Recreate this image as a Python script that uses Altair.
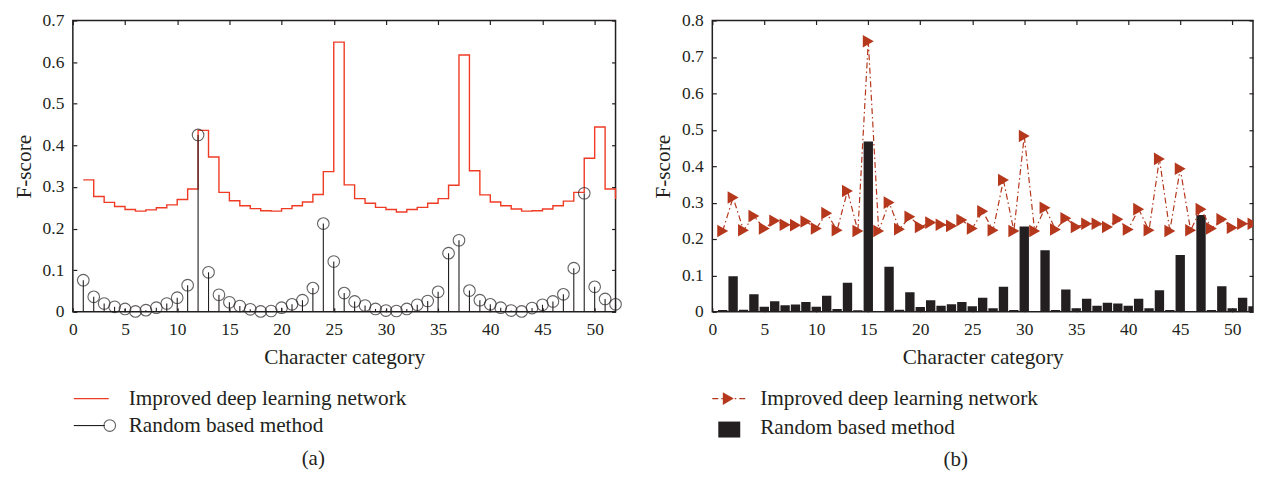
import altair as alt
import pandas as pd

# ---------------- data ----------------
categories = list(range(1, 53))

improved_a = [0.317, 0.277, 0.263, 0.253, 0.246, 0.242, 0.245, 0.250, 0.257, 0.270,
              0.295, 0.436, 0.372, 0.287, 0.267, 0.255, 0.248, 0.243, 0.242, 0.248,
              0.255, 0.264, 0.282, 0.337, 0.648, 0.305, 0.272, 0.261, 0.251, 0.246,
              0.240, 0.246, 0.251, 0.261, 0.272, 0.304, 0.617, 0.339, 0.281, 0.264,
              0.255, 0.247, 0.242, 0.243, 0.247, 0.255, 0.266, 0.287, 0.369, 0.444,
              0.295, 0.271]

random_a = [0.076, 0.036, 0.020, 0.012, 0.007, 0.001, 0.004, 0.010, 0.020, 0.034,
            0.064, 0.425, 0.095, 0.041, 0.023, 0.014, 0.006, 0.001, 0.002, 0.010,
            0.018, 0.028, 0.057, 0.212, 0.121, 0.045, 0.025, 0.015, 0.007, 0.003,
            0.002, 0.007, 0.017, 0.026, 0.048, 0.141, 0.172, 0.051, 0.028, 0.018,
            0.010, 0.003, 0.001, 0.009, 0.017, 0.025, 0.042, 0.105, 0.285, 0.060,
            0.031, 0.018]

improved_b = [0.222, 0.314, 0.224, 0.263, 0.229, 0.250, 0.239, 0.238, 0.248, 0.229,
              0.271, 0.224, 0.332, 0.222, 0.743, 0.222, 0.300, 0.227, 0.261, 0.233,
              0.245, 0.239, 0.236, 0.252, 0.229, 0.276, 0.224, 0.362, 0.222, 0.483,
              0.222, 0.286, 0.226, 0.257, 0.233, 0.242, 0.242, 0.233, 0.254, 0.226,
              0.282, 0.224, 0.420, 0.222, 0.393, 0.224, 0.282, 0.229, 0.254, 0.231,
              0.242, 0.242]

random_b = [0.005, 0.098, 0.006, 0.048, 0.014, 0.029, 0.018, 0.020, 0.027, 0.014,
            0.044, 0.008, 0.080, 0.004, 0.468, 0.002, 0.124, 0.006, 0.054, 0.013,
            0.032, 0.017, 0.021, 0.027, 0.015, 0.039, 0.010, 0.069, 0.005, 0.234,
            0.002, 0.169, 0.005, 0.061, 0.010, 0.036, 0.017, 0.025, 0.023, 0.017,
            0.036, 0.010, 0.059, 0.005, 0.156, 0.002, 0.266, 0.005, 0.070, 0.010,
            0.039, 0.015]

series_names = ["Improved deep learning network", "Random based method"]
panel_tags = ["(a)", "(b)"]
x_ticks = [0, 5, 10, 15, 20, 25, 30, 35, 40, 45, 50]
y_ticks_a = [0, 0.1, 0.2, 0.3, 0.4, 0.5, 0.6, 0.7]
y_ticks_b = [0, 0.1, 0.2, 0.3, 0.4, 0.5, 0.6, 0.7, 0.8]
x_title = "Character category"
y_title = "F-score"

# ---------------- style ----------------
FONT = "Liberation Serif"
INK = "#231f20"
RED_A = "#ef3b24"
RED_B = "#b5371c"
W, H = 544, 292
WB = 542
TICK_FS = 17.5
TITLE_FS = 21.3
LEG_FS = 21.3
TAG_FS = 21
CIRC = 135
TRI = 160

df_a = pd.DataFrame({"cat": categories, "improved": improved_a, "random": random_a})
df_b = pd.DataFrame({"cat": categories, "improved": improved_b, "random": random_b})


def label_axis_x():
    return alt.Axis(values=x_ticks, ticks=False, tickSize=0, domain=False, grid=False,
                    labelPadding=9, labelFontSize=TICK_FS, labelFont=FONT, labelColor=INK,
                    title=x_title, titleFont=FONT, titleFontSize=TITLE_FS,
                    titleFontWeight="normal", titleColor=INK, titlePadding=8,
                    labelFlush=False, labelOverlap=False)


def label_axis_y(vals):
    return alt.Axis(values=vals, ticks=False, tickSize=0, domain=False, grid=False,
                    format=".1~f", labelPadding=9, labelFontSize=TICK_FS, labelFont=FONT,
                    labelColor=INK, title=y_title, titleFont=FONT, titleFontSize=TITLE_FS,
                    titleFontWeight="normal", titleColor=INK, titlePadding=8,
                    labelFlush=False, labelOverlap=False)


def tick_axis(orient, vals):
    return alt.Axis(orient=orient, offset=-4, values=vals, labels=False, domain=False,
                    grid=False, tickSize=4, tickColor=INK, tickWidth=1.2, title=None)


def xs(ax, field="cat"):
    return alt.X(f"{field}:Q", scale=alt.Scale(domain=[0, 52], nice=False, zero=False), axis=ax)


def ys(ax, top, field):
    return alt.Y(f"{field}:Q", scale=alt.Scale(domain=[0, top], nice=False), axis=ax)


def one():
    return pd.DataFrame({"k": [0]})


# ---------------- panel (a) ----------------
step = alt.Chart(df_a).mark_line(interpolate="step-after", color=RED_A, strokeWidth=1.4).encode(
    x=xs(label_axis_x()), y=ys(label_axis_y(y_ticks_a), 0.7, "improved"))
stems = alt.Chart(df_a).mark_rule(color=INK, strokeWidth=1.1).encode(
    x=xs(tick_axis("bottom", x_ticks)), y=ys(tick_axis("left", y_ticks_a), 0.7, "random"),
    y2=alt.datum(0))
circles = alt.Chart(df_a).mark_point(shape="circle", filled=False, color=INK, size=CIRC,
                                     strokeWidth=1.1).encode(
    x=xs(tick_axis("top", x_ticks)), y=ys(tick_axis("right", y_ticks_a), 0.7, "random"))

leg_a = pd.DataFrame({"label": series_names, "row": [0, 1]})
leg_a_line = alt.Chart(one()).mark_rule(color=RED_A, strokeWidth=1.4).encode(
    x=alt.value(1), x2=alt.value(36), y=alt.value(379))
leg_a_stem = alt.Chart(one()).mark_rule(color=INK, strokeWidth=1.1).encode(
    x=alt.value(1), x2=alt.value(32), y=alt.value(406))
leg_a_circ = alt.Chart(one()).mark_point(
    shape="circle", filled=False, color=INK, size=CIRC, strokeWidth=1.1).encode(
    x=alt.value(37), y=alt.value(406))
leg_a_txt1 = alt.Chart(leg_a[leg_a.row == 0]).mark_text(
    align="left", baseline="middle", font=FONT, fontSize=LEG_FS, color=INK).encode(
    x=alt.value(56), y=alt.value(379), text="label:N")
leg_a_txt2 = alt.Chart(leg_a[leg_a.row == 1]).mark_text(
    align="left", baseline="middle", font=FONT, fontSize=LEG_FS, color=INK).encode(
    x=alt.value(56), y=alt.value(406), text="label:N")
tag_a = alt.Chart(pd.DataFrame({"tag": [panel_tags[0]]})).mark_text(
    align="center", baseline="middle", font=FONT, fontSize=TAG_FS, color=INK).encode(
    x=alt.value(241), y=alt.value(440), text="tag:N")

panel_a = alt.layer(step, stems, circles, leg_a_line, leg_a_stem, leg_a_circ,
                    leg_a_txt1, leg_a_txt2, tag_a).resolve_axis(
    x="independent", y="independent").properties(width=W, height=H)

# ---------------- panel (b) ----------------
bars = alt.Chart(df_b).transform_calculate(
    x0="datum.cat - 0.45", x1="datum.cat + 0.45").mark_bar(color=INK, clip=True).encode(
    x=xs(label_axis_x(), "x0"), x2="x1:Q",
    y=ys(label_axis_y(y_ticks_b), 0.8, "random"), y2=alt.datum(0))
dash = alt.Chart(df_b).mark_line(color=RED_B, strokeWidth=1.2, strokeDash=[6, 3, 1.5, 3]).encode(
    x=xs(tick_axis("bottom", x_ticks)), y=ys(tick_axis("left", y_ticks_b), 0.8, "improved"))
tris = alt.Chart(df_b).mark_point(shape="triangle-right", filled=True, color=RED_B, size=TRI,
                                  opacity=1, clip=True).encode(
    x=xs(tick_axis("top", x_ticks)), y=ys(tick_axis("right", y_ticks_b), 0.8, "improved"))

leg_b = pd.DataFrame({"label": series_names, "row": [0, 1]})
leg_b_line = alt.Chart(one()).mark_rule(
    color=RED_B, strokeWidth=1.2, strokeDash=[6, 3, 1.5, 3]).encode(
    x=alt.value(0), x2=alt.value(34), y=alt.value(379))
leg_b_tri = alt.Chart(one()).mark_point(
    shape="triangle-right", filled=True, color=RED_B, size=TRI, opacity=1).encode(
    x=alt.value(16), y=alt.value(379))
leg_b_sq = alt.Chart(one()).mark_rect(color=INK).encode(
    x=alt.value(6), x2=alt.value(28), y=alt.value(402), y2=alt.value(418))
leg_b_txt1 = alt.Chart(leg_b[leg_b.row == 0]).mark_text(
    align="left", baseline="middle", font=FONT, fontSize=LEG_FS, color=INK).encode(
    x=alt.value(48), y=alt.value(379), text="label:N")
leg_b_txt2 = alt.Chart(leg_b[leg_b.row == 1]).mark_text(
    align="left", baseline="middle", font=FONT, fontSize=LEG_FS, color=INK).encode(
    x=alt.value(48), y=alt.value(408), text="label:N")
tag_b = alt.Chart(pd.DataFrame({"tag": [panel_tags[1]]})).mark_text(
    align="center", baseline="middle", font=FONT, fontSize=TAG_FS, color=INK).encode(
    x=alt.value(244), y=alt.value(441), text="tag:N")

panel_b = alt.layer(bars, dash, tris, leg_b_line, leg_b_tri, leg_b_sq,
                    leg_b_txt1, leg_b_txt2, tag_b).resolve_axis(
    x="independent", y="independent").properties(width=WB, height=H)

chart = alt.hconcat(panel_a, panel_b, spacing=97, bounds="flush").properties(
    padding={"left": 4, "top": 2, "right": 0, "bottom": 0},
    background="white").configure_view(
    stroke=INK, strokeWidth=1.5).configure_text(font=FONT)

chart.save("out.html", embed_options={"renderer": "svg", "actions": False})
